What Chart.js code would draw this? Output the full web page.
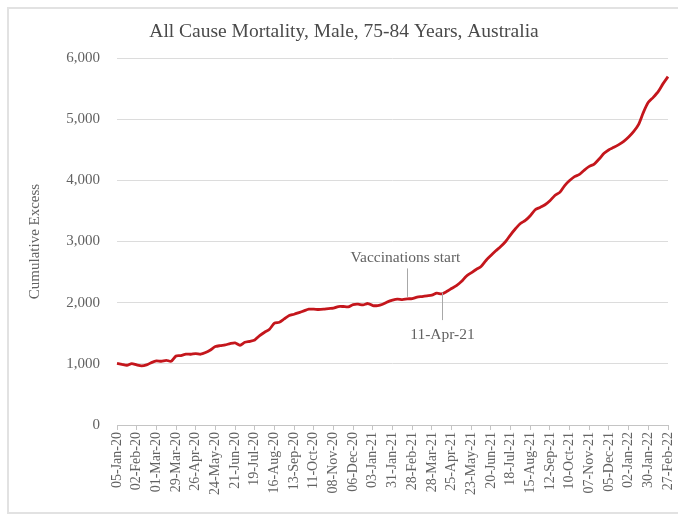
<!DOCTYPE html>
<html>
<head>
<meta charset="utf-8">
<script src="https://cdn.jsdelivr.net/npm/chart.js@4/dist/chart.umd.min.js"></script>
<style>
  html, body { margin: 0; padding: 0; background: #ffffff; }
  #wrap { width: 678px; height: 514px; }
</style>
</head>
<body>
<div id="wrap"><canvas id="c" width="678" height="514"></canvas></div>
<script>
// ---- Data ----
const chartTitle = 'All Cause Mortality, Male, 75-84 Years, Australia';
const yAxisTitle = 'Cumulative Excess';
const firstWeek = '2020-01-05';
const weekCount = 113;
const tickLabels = ['05-Jan-20','02-Feb-20','01-Mar-20','29-Mar-20','26-Apr-20','24-May-20','21-Jun-20','19-Jul-20','16-Aug-20','13-Sep-20','11-Oct-20','08-Nov-20','06-Dec-20','03-Jan-21','31-Jan-21','28-Feb-21','28-Mar-21','25-Apr-21','23-May-21','20-Jun-21','18-Jul-21','15-Aug-21','12-Sep-21','10-Oct-21','07-Nov-21','05-Dec-21','02-Jan-22','30-Jan-22','27-Feb-22'];
const cumulativeExcess = [1009,993,977,1004,982,966,982,1020,1047,1042,1058,1042,1129,1135,1157,1157,1168,1157,1184,1227,1282,1298,1309,1331,1342,1304,1353,1369,1391,1462,1517,1566,1664,1680,1735,1790,1811,1838,1866,1893,1893,1888,1893,1904,1910,1937,1937,1932,1969,1975,1964,1986,1953,1953,1975,2013,2040,2057,2051,2062,2068,2090,2100,2111,2122,2155,2144,2182,2231,2280,2345,2433,2488,2542,2591,2690,2771,2848,2919,3000,3110,3208,3295,3344,3421,3519,3557,3601,3666,3753,3803,3915,3996,4060,4097,4168,4228,4266,4348,4441,4501,4539,4583,4637,4708,4795,4910,5112,5275,5357,5450,5581,5696];
const annotationTexts = ['Vaccinations start', '11-Apr-21'];
const annotationDates = ['21-Feb-21', '11-Apr-21'];

// weekly category labels (dd-Mon-yy)
const months = ['Jan','Feb','Mar','Apr','May','Jun','Jul','Aug','Sep','Oct','Nov','Dec'];
const weeks = [];
{
  const d0 = new Date(firstWeek + 'T00:00:00Z');
  for (let i = 0; i < weekCount; i++) {
    const d = new Date(d0.getTime() + i * 7 * 86400000);
    const dd = String(d.getUTCDate()).padStart(2, '0');
    const yy = String(d.getUTCFullYear() % 100).padStart(2, '0');
    weeks.push(dd + '-' + months[d.getUTCMonth()] + '-' + yy);
  }
}

const FONT = "'Liberation Serif', 'DejaVu Serif', serif";
const TEXT = '#626262';

// annotation geometry (value space) kept apart from data
const annotationGeom = [
  { lineFrom: 2560, lineTo: 2095, textAt: 2730, shift: -2 },
  { lineFrom: 2165, lineTo: 1715, textAt: 1475, shift: 0 }
];

const framePlugin = {
  id: 'frame',
  beforeDraw(chart) {
    const ctx = chart.ctx;
    ctx.save();
    ctx.fillStyle = '#ffffff';
    ctx.fillRect(0, 0, chart.width, chart.height);
    ctx.strokeStyle = '#e2e2e2';
    ctx.lineWidth = 2;
    ctx.strokeRect(8, 8, chart.width + 20, chart.height - 9);
    ctx.restore();
  }
};

const annotationPlugin = {
  id: 'vaxAnnotations',
  afterDatasetsDraw(chart) {
    const ctx = chart.ctx;
    const xs = chart.scales.x, ys = chart.scales.y;
    ctx.save();
    annotationTexts.forEach((txt, k) => {
      const idx = weeks.indexOf(annotationDates[k]);
      const g = annotationGeom[k];
      const x = Math.round(xs.getPixelForValue(idx)) + 0.5;
      ctx.strokeStyle = '#a8a8a8';
      ctx.lineWidth = 1;
      ctx.beginPath();
      ctx.moveTo(x, ys.getPixelForValue(g.lineFrom));
      ctx.lineTo(x, ys.getPixelForValue(g.lineTo));
      ctx.stroke();
      ctx.fillStyle = TEXT;
      ctx.font = "15.5px " + FONT;
      ctx.textAlign = 'center';
      ctx.textBaseline = 'middle';
      ctx.fillText(txt, x + g.shift, ys.getPixelForValue(g.textAt));
    });
    ctx.restore();
  }
};

new Chart(document.getElementById('c'), {
  type: 'line',
  data: {
    labels: weeks,
    datasets: [{
      label: 'Cumulative Excess',
      data: cumulativeExcess,
      borderColor: '#c4161c',
      borderWidth: 2.8,
      pointRadius: 0,
      tension: 0.25,
      fill: false
    }]
  },
  options: {
    responsive: false,
    animation: false,
    layout: { padding: { left: 20, right: 10, top: 20, bottom: 0 } },
    plugins: {
      legend: { display: false },
      tooltip: { enabled: false },
      title: {
        display: true,
        text: chartTitle,
        color: '#4a4a4a',
        font: { family: FONT, size: 19.5, weight: 'normal', lineHeight: 1.2 },
        padding: { top: 0, bottom: 14.6 }
      }
    },
    scales: {
      x: {
        type: 'category',
        offset: false,
        border: { display: true, color: '#c4c4c4', width: 1 },
        grid: { drawOnChartArea: false, drawTicks: true, tickLength: 5, color: '#c4c4c4' },
        ticks: {
          autoSkip: false,
          maxRotation: 90,
          minRotation: 90,
          padding: 2,
          color: TEXT,
          font: { family: FONT, size: 14 },
          callback(value, index) {
            const lab = weeks[index];
            return tickLabels.includes(lab) ? lab : null;
          }
        },
        afterFit(scale) {
          scale.height = 89;
          scale.paddingLeft = 0;
          scale.paddingRight = 0;
        }
      },
      y: {
        min: 0,
        max: 6000,
        border: { display: false },
        grid: { color: '#dcdcdc', drawTicks: false, lineWidth: 1 },
        ticks: {
          stepSize: 1000,
          padding: 17,
          color: TEXT,
          font: { family: FONT, size: 15 },
          callback(v) { return v.toLocaleString('en-US'); }
        },
        title: {
          display: true,
          text: yAxisTitle,
          color: TEXT,
          font: { family: FONT, size: 15 },
          padding: { top: 6, bottom: 4 }
        },
        afterFit(scale) { scale.width = 97; }
      }
    }
  },
  plugins: [framePlugin, annotationPlugin]
});
</script>
</body>
</html>
